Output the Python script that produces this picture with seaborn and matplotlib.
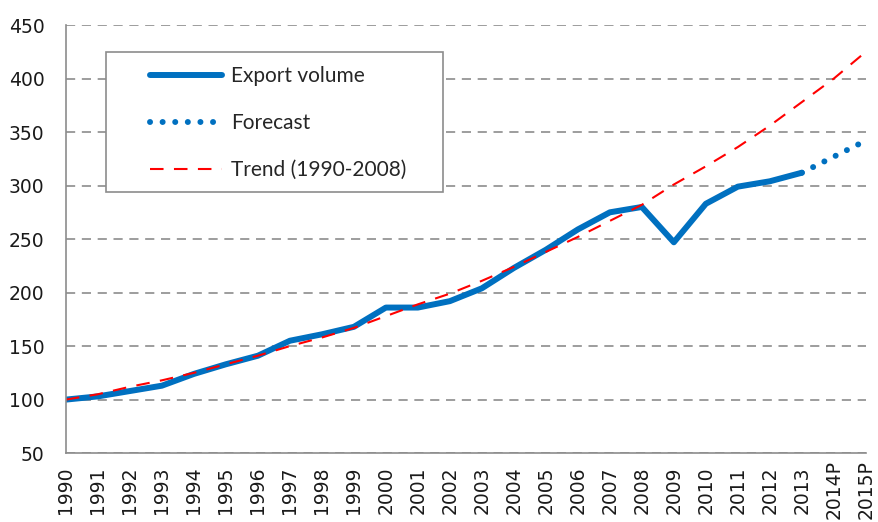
import matplotlib
matplotlib.use("Agg")
import matplotlib.pyplot as plt
from matplotlib.patches import Rectangle
import seaborn as sns
import numpy as np
import pandas as pd

# Data (index, 1990 = 100)
years = ["1990", "1991", "1992", "1993", "1994", "1995", "1996", "1997", "1998",
         "1999", "2000", "2001", "2002", "2003", "2004", "2005", "2006", "2007",
         "2008", "2009", "2010", "2011", "2012", "2013", "2014P", "2015P"]
export_volume = [100, 103, 108, 113, 124, 133, 141, 155, 161, 168, 186, 186, 192,
                 204, 223, 240, 259, 275, 280, 247, 283, 299, 304, 312, None, None]
forecast = [None] * 23 + [312, 327, 342]
trend = [100, 105, 112, 118, 125, 133, 141, 150, 158, 167, 178, 189, 199, 211,
         224, 238, 252, 267, 282, 301, 318, 336, 356, 378, 400, 425]

df = pd.DataFrame({
    "pos": np.arange(len(years)),
    "year": years,
    "Export volume": pd.array(export_volume, dtype="Float64"),
    "Forecast": pd.array(forecast, dtype="Float64"),
    "Trend (1990-2008)": pd.array(trend, dtype="Float64"),
})
for c in ["Export volume", "Forecast", "Trend (1990-2008)"]:
    df[c] = df[c].astype(float)

sns.set_style("white")
# wide font for tick labels, Lato for the legend text
plt.rcParams["font.family"] = ["DejaVu Sans"]

fig = plt.figure(figsize=(8.79, 5.22), dpi=100)
ax = fig.add_axes([0.075, 0.132, 0.91, 0.82])

blue = "#0070C0"
grey = "#8C8C8C"

sns.lineplot(data=df, x="pos", y="Export volume", ax=ax, color=blue, lw=4.3,
             label="Export volume", solid_capstyle="round")
sns.lineplot(data=df, x="pos", y="Forecast", ax=ax, color=blue, lw=4.3,
             label="Forecast", dashes=False, linestyle=(0, (0.01, 2.1)),
             dash_capstyle="round")
sns.lineplot(data=df, x="pos", y="Trend (1990-2008)", ax=ax, color="#FF0000",
             lw=1.5, label="Trend (1990-2008)", linestyle=(0, (6.5, 5)))

ax.set_xlim(0, len(years) - 1)
ax.set_ylim(50, 450)
ax.set_yticks(range(50, 451, 50))
ax.set_xticks(df["pos"])
ax.set_xticklabels(years, rotation=90, va="center")
ax.tick_params(axis="both", which="major", direction="out", color=grey,
               width=1.2, labelsize=13.5, labelcolor="#1a1a1a")
ax.tick_params(axis="y", length=4.3, pad=11)
ax.tick_params(axis="x", length=5, pad=21.5)
ax.set_xlabel("")
ax.set_ylabel("")

ax.grid(axis="y", color=grey, linestyle=(0, (5.5, 4)), lw=1.2)
ax.set_axisbelow(True)
for s in ["top", "right"]:
    ax.spines[s].set_visible(False)
for s in ["left", "bottom"]:
    ax.spines[s].set_color(grey)
    ax.spines[s].set_linewidth(1.2)

# legend box drawn as a plain frame, entries placed inside it
ax.add_patch(Rectangle((0.05, 0.610), 0.421, 0.327, transform=ax.transAxes,
                       facecolor="white", edgecolor=grey, lw=1.2, zorder=4))
leg = ax.legend(loc="upper left", bbox_to_anchor=(0.105, 0.904),
                prop={"family": "Lato", "size": 15},
                frameon=False, handlelength=3.45, handletextpad=0.45,
                labelspacing=1.3, borderpad=0, borderaxespad=0)
leg.set_zorder(5)

fig.savefig("out.png", dpi=100)
